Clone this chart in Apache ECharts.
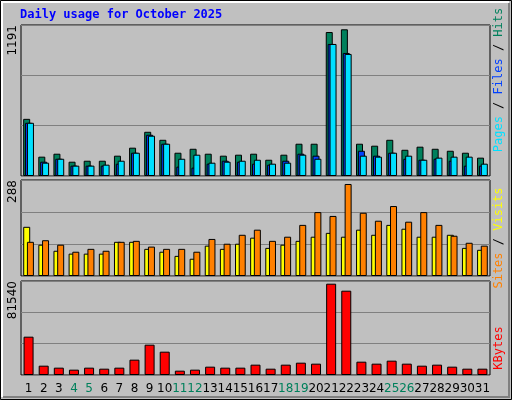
<!DOCTYPE html>
<html><head><meta charset="utf-8">
<script src="https://cdn.jsdelivr.net/npm/echarts@6/dist/echarts.min.js"></script>
<style>html,body{margin:0;padding:0;background:#c0c0c0}#c{width:512px;height:400px}</style>
</head><body><div id="c"></div>
<script>
const days = Array.from({length:31},(_,i)=>String(i+1));
const weekend = ['4','5','11','12','18','19','25','26'];
const hits  = [464,157,181,116,124,124,165,230,359,294,189,221,181,165,173,181,132,173,262,262,1169,1191,262,246,294,213,238,221,205,189,149];
const files = [432,116,140,84,84,84,100,189,335,262,76,68,100,124,116,100,92,124,181,165,1072,999,205,165,189,140,132,140,124,84,84];
const pages = [432,108,140,84,84,92,124,189,327,262,140,173,108,116,124,132,100,108,173,140,1072,991,165,157,189,165,132,149,157,157,100];
const sites = [154,98,79,70,70,70,107,107,85,76,63,54,95,85,101,120,88,98,110,123,135,123,145,129,160,148,123,123,129,88,82];
const visits= [107,112,98,76,85,79,107,110,92,85,85,76,116,101,129,145,110,123,160,200,188,288,198,173,219,170,200,160,126,104,95];
const kbytes= [34220,8330,6550,4760,6550,5650,6550,13690,27080,20830,3870,4760,7440,6550,6550,9230,5650,9230,11010,10120,81540,75290,11900,10120,12800,10120,8330,9230,7440,5650,5650];
const maxLabels = ['1191','288','81540'];

const ch = echarts.init(document.getElementById('c'));
const L=21, R=22;
const grids=[{left:L,right:R,top:25,height:151},{left:L,right:R,top:180,height:96},{left:L,right:R,top:281,height:94}];
const axMax=[1226,300.5,83950];
const bar=(name,data,color,gi,w,gap)=>({name,type:'bar',data,xAxisIndex:gi,yAxisIndex:gi,barWidth:w,barGap:gap,
  itemStyle:{color,borderColor:'#000',borderWidth:1},animation:false});
const rot=(txt,x,y,rich)=>({type:'text',x,y,rotation:Math.PI/2,style:{text:txt,rich,fontFamily:'DejaVu Sans Mono',fontSize:12,align:'center',verticalAlign:'middle'}});
ch.setOption({
  backgroundColor:'#c0c0c0',
  animation:false,
  grid:grids.map(g=>Object.assign({show:true,borderColor:'#000',borderWidth:1,backgroundColor:'#c0c0c0'},g)),
  xAxis:grids.map((g,i)=>({gridIndex:i,type:'category',data:days,axisTick:{show:false},axisLine:{show:false},
    axisLabel:{show:i===2,interval:0,margin:8,fontFamily:'DejaVu Sans',fontSize:12,
      color:(v)=>weekend.includes(v)?'#00805c':'#000'}})),
  yAxis:grids.map((g,i)=>({gridIndex:i,type:'value',min:0,max:axMax[i],interval:axMax[i]/3,axisLabel:{show:false},
    axisLine:{show:false},axisTick:{show:false},splitLine:{lineStyle:{color:'#808080',width:1}}})),
  series:[
    bar('Hits',hits,'#00805c',0,7,'-73%'),
    bar('Files',files,'#0040ff',0,7,'-73%'),
    bar('Pages',pages,'#00e0ff',0,7,'-73%'),
    bar('Sites',sites,'#ffff00',1,7,'-47%'),
    bar('Visits',visits,'#ff8000',1,7,'-47%'),
    bar('KBytes',kbytes,'#ff0000',2,10,'0%')
  ],
  graphic:[
    {type:'rect',shape:{x:0.5,y:0.5,width:511,height:399},style:{fill:null,stroke:'#000',lineWidth:1},silent:true},
    {type:'polyline',shape:{points:[[2,397],[2,2],[509,2]]},style:{stroke:'#fff',lineWidth:2,fill:null}},
    {type:'polyline',shape:{points:[[3,397],[509,397],[509,3]]},style:{stroke:'#808080',lineWidth:2,fill:null}},
    {type:'text',x:20,y:9,style:{text:'Daily usage for October 2025',fontFamily:'DejaVu Sans Mono',fontWeight:'bold',fontSize:12,fill:'#0000ff'}},
    {type:'text',x:13,y:25,rotation:Math.PI/2,style:{text:maxLabels[0],fontFamily:'DejaVu Sans',fontSize:12,fill:'#000',align:'right',verticalAlign:'middle'}},
    {type:'text',x:13,y:180,rotation:Math.PI/2,style:{text:maxLabels[1],fontFamily:'DejaVu Sans',fontSize:12,fill:'#000',align:'right',verticalAlign:'middle'}},
    {type:'text',x:13,y:281,rotation:Math.PI/2,style:{text:maxLabels[2],fontFamily:'DejaVu Sans',fontSize:12,fill:'#000',align:'right',verticalAlign:'middle'}},
    rot('{p|Pages} {k|/} {f|Files} {k|/} {h|Hits}',499,80,{p:{fill:'#00e0ff',fontFamily:'DejaVu Sans Mono',fontSize:12},f:{fill:'#0040ff',fontFamily:'DejaVu Sans Mono',fontSize:12},h:{fill:'#00805c',fontFamily:'DejaVu Sans Mono',fontSize:12},k:{fill:'#000',fontFamily:'DejaVu Sans Mono',fontSize:12}}),
    rot('{s|Sites} {k|/} {v|Visits}',499,238,{s:{fill:'#ff8000',fontFamily:'DejaVu Sans Mono',fontSize:12},v:{fill:'#ffff00',fontFamily:'DejaVu Sans Mono',fontSize:12},k:{fill:'#000',fontFamily:'DejaVu Sans Mono',fontSize:12}}),
    rot('{r|KBytes}',499,348,{r:{fill:'#ff0000',fontFamily:'DejaVu Sans Mono',fontSize:12}})
  ]
});
</script></body></html>
